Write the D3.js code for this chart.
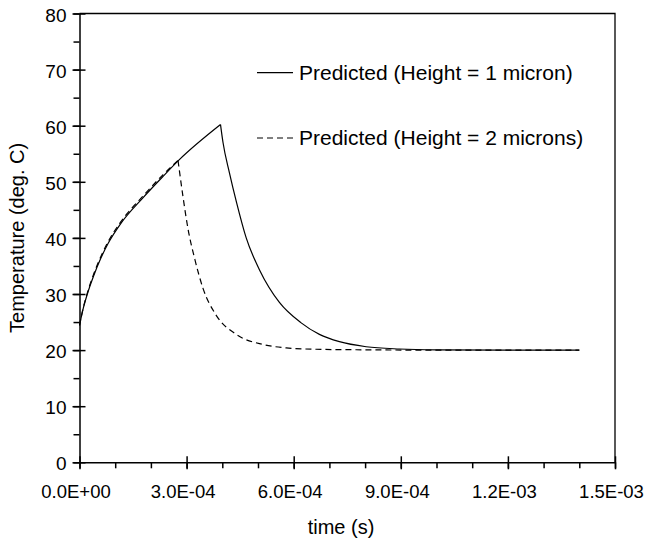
<!DOCTYPE html>
<html>
<head>
  <script src="https://d3js.org/d3.v7.min.js"></script>
  <style>
    body { margin: 0; background: #fff; }
    text { font-family: "Liberation Sans", Arial, sans-serif; fill: #000; }
  </style>
</head>
<body>
  <script>
    // time (s) and temperature (deg. C)
    const time1 = [0, 1.0e-5, 2.2e-5, 4.0e-5, 6.0e-5, 8.0e-5, 1.16e-4, 1.77e-4, 2.33e-4, 2.79e-4, 3.95e-4,
                   4.02e-4, 4.2e-4, 4.4e-4, 4.67e-4, 5.05e-4, 5.6e-4, 6.2e-4, 6.72e-4, 7.28e-4, 8.03e-4, 8.96e-4, 1.0e-3, 1.2e-3, 1.4e-3];
    const temp1 = [24.4, 27.3, 30.0, 33.3, 36.4, 39.0, 42.6, 47.1, 50.9, 53.9, 60.2,
                   57.0, 51.6, 46.3, 40.0, 34.2, 28.5, 24.9, 22.8, 21.5, 20.6, 20.2, 20.05, 20.0, 20.0];
    const peak1 = 10;

    const time2 = [0, 1.0e-5, 2.2e-5, 4.0e-5, 6.0e-5, 8.0e-5, 1.16e-4, 1.77e-4, 2.33e-4, 2.76e-4,
                   2.9e-4, 3.04e-4, 3.23e-4, 3.46e-4, 3.83e-4, 4.39e-4, 5.14e-4, 5.79e-4, 6.63e-4, 8.0e-4, 1.0e-3, 1.2e-3, 1.4e-3];
    const temp2 = [24.4, 27.4, 30.2, 33.6, 36.7, 39.3, 42.9, 47.4, 51.2, 53.8,
                   47.3, 41.6, 36.2, 31.0, 26.2, 22.8, 21.0, 20.4, 20.15, 20.05, 20.0, 20.0, 20.0];
    const peak2 = 9;

    const xTicks = [0, 3e-4, 6e-4, 9e-4, 1.2e-3, 1.5e-3];
    const xTickLabels = ["0.0E+00", "3.0E-04", "6.0E-04", "9.0E-04", "1.2E-03", "1.5E-03"];
    const yTicks = [0, 10, 20, 30, 40, 50, 60, 70, 80];
    const legendLabels = ["Predicted (Height = 1 micron)", "Predicted (Height = 2 microns)"];

    const width = 645, height = 542;
    const margin = {left: 79.5, right: 30, top: 13.5, bottom: 79.7};

    const svg = d3.select("body").append("svg")
      .attr("width", width)
      .attr("height", height);

    const x = d3.scaleLinear().domain([0, 1.5e-3]).range([margin.left, width - margin.right]);
    const y = d3.scaleLinear().domain([0, 80]).range([height - margin.bottom, margin.top]);

    // frame (top + right)
    svg.append("path")
      .attr("d", `M${x(0)},${y(80)}H${x(1.5e-3)}V${y(0)}`)
      .attr("fill", "none")
      .attr("stroke", "#000")
      .attr("stroke-width", 1.3);

    // minor ticks
    svg.append("g")
      .attr("transform", `translate(0,${y(0)})`)
      .call(d3.axisBottom(x).tickValues(d3.range(0, 16).map(i => i * 1e-4)).tickSize(6).tickFormat(""))
      .call(g => g.select(".domain").remove());
    svg.append("g")
      .attr("transform", `translate(${x(0)},0)`)
      .call(d3.axisLeft(y).tickValues(d3.range(0, 17).map(i => i * 5)).tickSize(6).tickFormat(""))
      .call(g => g.select(".domain").remove());

    // major axes
    const xAxis = svg.append("g")
      .attr("transform", `translate(0,${y(0)})`)
      .call(d3.axisBottom(x).tickValues(xTicks).tickSize(7).tickPadding(16)
        .tickSizeOuter(0)
        .tickFormat((d, i) => xTickLabels[i]));
    xAxis.selectAll(".tick line").attr("y1", -6);
    xAxis.selectAll("text").attr("font-size", 18.5).attr("dx", -4)
      .attr("font-family", "Liberation Sans, Arial, sans-serif");

    const yAxis = svg.append("g")
      .attr("transform", `translate(${x(0)},0)`)
      .call(d3.axisLeft(y).tickValues(yTicks).tickSize(7).tickPadding(6).tickSizeOuter(0));
    yAxis.selectAll(".tick line").attr("x1", 6);
    yAxis.selectAll("text").attr("font-size", 19).attr("dy", "0.4em")
      .attr("font-family", "Liberation Sans, Arial, sans-serif");

    svg.selectAll(".domain, .tick line").attr("stroke", "#000").attr("stroke-width", 1.5);

    // curves: rise and decay drawn as separate pieces so the peak stays sharp
    const line = d3.line().x(d => x(d[0])).y(d => y(d[1])).curve(d3.curveMonotoneX);
    function drawSeries(ts, vs, peak, dash) {
      const pts = ts.map((t, i) => [t, vs[i]]);
      [pts.slice(0, peak + 1), pts.slice(peak)].forEach(seg => {
        svg.append("path")
          .datum(seg)
          .attr("d", line)
          .attr("fill", "none")
          .attr("stroke", "#000")
          .attr("stroke-width", 1.2)
          .attr("stroke-dasharray", dash);
      });
    }
    drawSeries(time2, temp2, peak2, "6,4");
    drawSeries(time1, temp1, peak1, null);

    // legend
    const legend = svg.append("g");
    legendLabels.forEach((lab, i) => {
      const ly = 72.7 + i * 65.3;
      legend.append("line")
        .attr("x1", 257).attr("x2", 293)
        .attr("y1", ly).attr("y2", ly)
        .attr("stroke", "#000")
        .attr("stroke-width", 1.2)
        .attr("stroke-dasharray", i === 1 ? "6,4" : null);
      legend.append("text")
        .attr("x", 299).attr("y", ly)
        .attr("dy", "0.35em")
        .attr("font-size", 21)
        .text(lab);
    });

    // axis titles
    svg.append("text")
      .attr("x", 341)
      .attr("y", 534)
      .attr("text-anchor", "middle")
      .attr("font-size", 20)
      .text("time (s)");

    svg.append("text")
      .attr("transform", `translate(24,${(y(0) + y(80)) / 2}) rotate(-90)`)
      .attr("text-anchor", "middle")
      .attr("font-size", 20)
      .text("Temperature (deg. C)");
  </script>
</body>
</html>
